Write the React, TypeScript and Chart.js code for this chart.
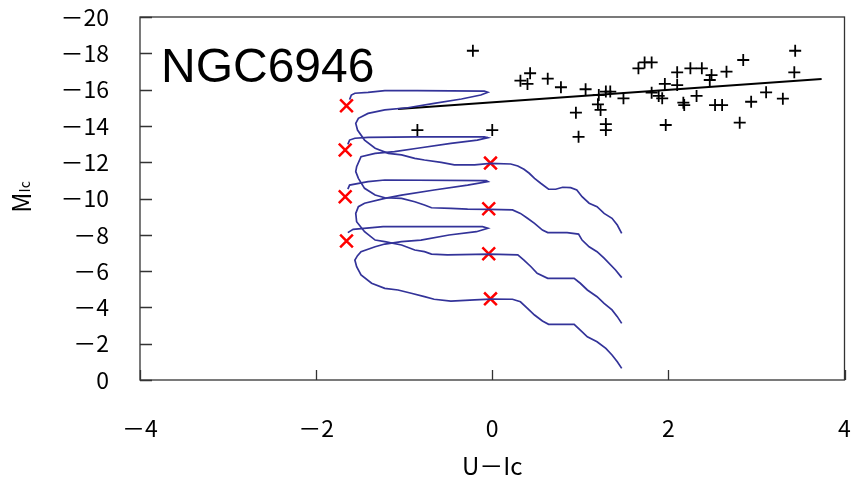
import React, { useEffect, useRef } from 'react';
import { Chart, registerables } from 'chart.js';

Chart.register(...registerables);

// ---- axis ticks ----
const xTickValues = [-4, -2, 0, 2, 4];
const yTickValues = [-20, -18, -16, -14, -12, -10, -8, -6, -4, -2, 0];

// ---- isochrone A (lowest) ----
const isoAX = [1.47, 1.42, 1.36, 1.29, 1.19, 1.08, 1.0, 0.93, 0.64, 0.57, 0.48, 0.4, 0.32, 0.23, -0.02,
  -0.2, -0.47, -0.66, -0.77, -0.92, -1.07, -1.22, -1.37, -1.49, -1.54, -1.56, -1.53, -1.49, -1.33, -1.22,
  -1.03, -0.81, -0.49, -0.18, -0.05, -0.11, -0.86, -1.24, -1.58, -1.64];
const isoAY = [-0.64, -1.01, -1.38, -1.74, -2.11, -2.38, -2.75, -3.07, -3.07, -3.25, -3.58, -3.95, -4.31, -4.45, -4.46,
  -4.41, -4.35, -4.45, -4.59, -4.78, -4.96, -5.05, -5.33, -5.79, -6.24, -6.61, -6.85, -7.07, -7.34, -7.49,
  -7.62, -7.71, -7.99, -8.17, -8.36, -8.45, -8.45, -8.45, -8.3, -8.12];

// ---- isochrone B ----
const isoBX = [1.47, 1.42, 1.36, 1.27, 1.19, 1.08, 1.0, 0.93, 0.63, 0.51, 0.44, 0.36, 0.29, -0.03,
  -0.51, -0.69, -0.77, -0.88, -1.03, -1.22, -1.33, -1.45, -1.54, -1.55, -1.52, -1.45, -1.22, -1.03,
  -0.66, -0.28, -0.05, -0.07, -1.22, -1.41, -1.62, -1.64];
const isoBY = [-3.12, -3.49, -3.86, -4.22, -4.59, -4.96, -5.33, -5.6, -5.6, -5.88, -6.24, -6.61, -6.89, -6.93,
  -6.89, -6.94, -7.07, -7.16, -7.44, -7.62, -7.71, -8.17, -8.72, -9.18, -9.55, -9.74, -10.01, -10.19,
  -10.47, -10.74, -10.93, -10.98, -11.02, -10.93, -10.74, -10.52];

// ---- isochrone C ----
const isoCX = [1.47, 1.4, 1.27, 1.19, 1.1, 1.02, 0.98, 0.85, 0.63, 0.57, 0.48, 0.4, 0.32, 0.23, -0.03,
  -0.28, -0.47, -0.69, -0.77, -0.88, -1.03, -1.22, -1.33, -1.45, -1.52, -1.55, -1.54, -1.49, -1.33,
  -1.11, -0.85, -0.47, -0.17, -0.05, -0.09, -0.85, -1.41, -1.56, -1.62, -1.64];
const isoCY = [-5.64, -6.06, -6.71, -7.07, -7.34, -7.71, -8.04, -8.12, -8.12, -8.26, -8.63, -8.91, -9.18, -9.37, -9.4,
  -9.42, -9.46, -9.49, -9.64, -9.82, -10.01, -10.04, -10.19, -10.56, -11.11, -11.48, -11.75, -12.3, -12.49,
  -12.58, -12.77, -13.04, -13.22, -13.35, -13.4, -13.4, -13.37, -13.32, -13.22, -12.98];

// ---- isochrone D (highest) ----
const isoDX = [1.47, 1.42, 1.36, 1.27, 1.19, 1.1, 1.02, 0.96, 0.89, 0.8, 0.72, 0.64, 0.55, 0.48, 0.42, 0.36, 0.29, 0.21, -0.02,
  -0.2, -0.43, -0.58, -0.77, -0.88, -1.03, -1.18, -1.33, -1.45, -1.53, -1.55, -1.52, -1.41, -1.22,
  -0.96, -0.66, -0.35, -0.13, -0.05, -0.09, -0.85, -1.22, -1.41, -1.56, -1.6, -1.62];
const isoDY = [-8.08, -8.54, -8.91, -9.18, -9.55, -9.74, -10.1, -10.47, -10.6, -10.62, -10.51, -10.51, -10.84, -11.11, -11.39, -11.61, -11.79, -11.9, -11.94,
  -11.85, -11.85, -11.99, -12.12, -12.21, -12.4, -12.49, -12.77, -13.22, -13.77, -14.14, -14.42, -14.69, -14.88,
  -15.0, -15.24, -15.48, -15.7, -15.85, -15.92, -15.94, -15.94, -15.85, -15.8, -15.7, -15.45];

// ---- observed stars (black +) ----
const starX = [-0.22, -0.85, 0.0, 0.43, 0.32, 0.4, 0.63, 0.78, 1.06, 1.21, 1.29, 1.34, 1.2, 1.23, 0.95,
  1.29, 1.29, 0.98, 1.49, 1.66, 1.73, 1.81, 1.81, 1.89, 1.93, 1.96, 2.1, 1.97, 2.1, 2.25, 2.38,
  2.17, 2.18, 2.32, 2.49, 2.47, 2.66, 2.85, 2.53, 2.61, 2.81, 2.94, 3.11, 3.3, 3.44, 3.43];
const starY = [-18.14, -13.77, -13.77, -16.9, -16.49, -16.31, -16.6, -16.13, -16.02, -15.7, -15.89, -15.89, -15.19, -14.88, -14.73,
  -14.1, -13.77, -13.4, -15.52, -17.17, -17.5, -17.5, -15.83, -15.65, -15.52, -16.31, -16.25, -14.05, -16.95, -17.17, -17.17,
  -15.28, -15.15, -15.65, -16.8, -16.53, -16.99, -17.63, -15.15, -15.15, -14.18, -15.33, -15.85, -15.5, -18.14, -16.95];

// ---- fit line ----
const fitX = [-1.07, 3.74];
const fitY = [-14.93, -16.58];

// ---- red markers ----
const redLeftX = [-1.655, -1.67, -1.67, -1.655];
const redLeftY = [-15.11, -12.67, -10.1, -7.66];
const redRightX = [-0.02, -0.04, -0.04, -0.02];
const redRightY = [-11.95, -9.44, -6.96, -4.47];

const pts = (xs: number[], ys: number[]) => xs.map((x, i) => ({ x, y: ys[i] }));
const fmt = (v: number) => (v < 0 ? '\uFF0D' + Math.abs(v) : String(v));

const TICK_FONT = "'Noto Sans CJK JP', 'Liberation Sans', sans-serif";

const framePlugin = {
  id: 'frame',
  beforeDatasetsDraw(chart: any) {
    const { ctx, chartArea: a, scales } = chart;
    ctx.save();
    ctx.strokeStyle = '#333';
    ctx.lineWidth = 1.3;
    ctx.strokeRect(a.left, a.top, a.right - a.left, a.bottom - a.top);
    ctx.beginPath();
    xTickValues.forEach((v) => {
      const px = Math.round(scales.x.getPixelForValue(v)) + 0.5;
      ctx.moveTo(px, a.bottom);
      ctx.lineTo(px, a.bottom - 10);
    });
    yTickValues.forEach((v) => {
      const py = Math.round(scales.y.getPixelForValue(v)) + 0.5;
      ctx.moveTo(a.left, py);
      ctx.lineTo(a.left + 12, py);
    });
    ctx.stroke();
    ctx.restore();
  },
  afterDraw(chart: any) {
    const { ctx, chartArea: a } = chart;
    ctx.save();
    ctx.fillStyle = '#000';
    ctx.font = "48px 'Liberation Sans', Arial, sans-serif";
    ctx.textBaseline = 'alphabetic';
    ctx.textAlign = 'left';
    ctx.fillText('NGC6946', 161, 82);

    // x axis title
    ctx.font = `24px ${TICK_FONT}`;
    ctx.textAlign = 'center';
    ctx.textBaseline = 'middle';
    ctx.fillText('U\uFF0DIc', (a.left + a.right) / 2, 466);

    // y axis title (rotated): M with subscript Ic
    ctx.translate(22, 197);
    ctx.rotate(-Math.PI / 2);
    ctx.textAlign = 'left';
    ctx.textBaseline = 'alphabetic';
    ctx.font = `25px ${TICK_FONT}`;
    const mW = ctx.measureText('M').width;
    ctx.font = `14px ${TICK_FONT}`;
    const sW = ctx.measureText('Ic').width;
    const total = mW + sW;
    ctx.font = `25px ${TICK_FONT}`;
    ctx.fillText('M', -total / 2, 9);
    ctx.font = `14px ${TICK_FONT}`;
    ctx.fillText('Ic', -total / 2 + mW, 8);
    ctx.restore();
  },
};

export default function App() {
  const ref = useRef<HTMLCanvasElement | null>(null);
  useEffect(() => {
    if (!ref.current) return;
    const lineDs = (xs: number[], ys: number[]) => ({
      type: 'scatter' as const,
      data: pts(xs, ys),
      showLine: true,
      borderColor: '#333399',
      backgroundColor: '#333399',
      borderWidth: 1.7,
      pointRadius: 0,
      tension: 0,
      fill: false,
    });
    const chart = new Chart(ref.current, {
      type: 'scatter',
      data: {
        datasets: [
          lineDs(isoAX, isoAY),
          lineDs(isoBX, isoBY),
          lineDs(isoCX, isoCY),
          lineDs(isoDX, isoDY),
          {
            data: pts(fitX, fitY),
            showLine: true,
            borderColor: '#000',
            borderWidth: 2,
            pointRadius: 0,
            fill: false,
          },
          {
            data: pts(starX, starY),
            pointStyle: 'cross',
            pointRadius: 6,
            pointBorderWidth: 1.8,
            borderColor: '#000',
            backgroundColor: '#000',
            showLine: false,
          },
          {
            data: pts(redLeftX, redLeftY).concat(pts(redRightX, redRightY)),
            pointStyle: 'crossRot',
            pointRadius: 9,
            pointBorderWidth: 2.5,
            borderColor: '#ff0000',
            backgroundColor: '#ff0000',
            showLine: false,
          },
        ] as any,
      },
      options: {
        animation: false,
        responsive: false,
        events: [],
        layout: { padding: { top: 17, right: 9, left: 0, bottom: 0 } },
        plugins: { legend: { display: false }, tooltip: { enabled: false }, title: { display: false } },
        scales: {
          x: {
            type: 'linear',
            min: -4,
            max: 4,
            grid: { display: false, drawTicks: false },
            border: { display: false },
            afterFit: (s: any) => { s.height = 101; s.paddingLeft = 0; s.paddingRight = 0; },
            afterBuildTicks: (s: any) => { s.ticks = xTickValues.map((v) => ({ value: v })); },
            ticks: {
              padding: 34,
              color: '#000',
              font: { family: TICK_FONT, size: 23 },
              callback: (v: any) => fmt(Number(v)),
              maxRotation: 0,
            },
          },
          y: {
            type: 'linear',
            min: -20,
            max: 0,
            reverse: true,
            grid: { display: false, drawTicks: false },
            border: { display: false },
            afterFit: (s: any) => { s.width = 140; s.paddingTop = 0; s.paddingBottom = 0; },
            afterBuildTicks: (s: any) => { s.ticks = yTickValues.map((v) => ({ value: v })); },
            ticks: {
              padding: 31,
              color: '#000',
              font: { family: TICK_FONT, size: 23 },
              callback: (v: any) => fmt(Number(v)),
            },
          },
        },
      } as any,
      plugins: [framePlugin],
    });
    return () => chart.destroy();
  }, []);
  return (
    <div style={{ position: 'absolute', left: 0, top: 0, width: 856, height: 481, background: '#fff' }}>
      <canvas ref={ref} width={856} height={481} style={{ width: 856, height: 481, display: 'block' }} />
    </div>
  );
}
